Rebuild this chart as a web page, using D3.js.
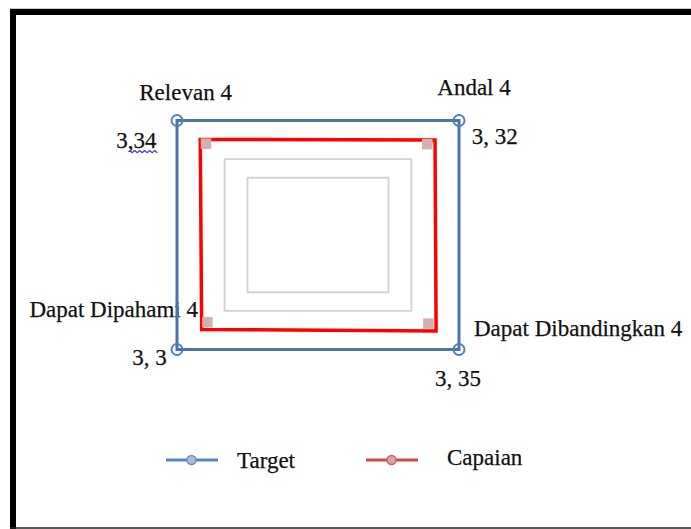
<!DOCTYPE html>
<html>
<head>
<meta charset="utf-8">
<script src="https://cdn.jsdelivr.net/npm/d3@7"></script>
<style>
  html, body { margin: 0; padding: 0; background: #fff; }
  svg { display: block; }
  text { font-family: "Liberation Serif", "Times New Roman", serif; }
</style>
</head>
<body>
<svg id="chart" width="691" height="529"></svg>
<script>
// ---- data ----
const categories = ["Relevan", "Andal", "Dapat Dibandingkan", "Dapat Dipahami"];
const targetValues = [4, 4, 4, 4];
const capaianValues = [3.34, 3.32, 3.35, 3.3];
const valueLabels = ["3,34", "3, 32", "3, 35", "3, 3"];
const gridLevels = [2, 2.65];
const seriesNames = ["Target", "Capaian"];

// ---- layout ----
const W = 691, H = 529;
const cx = 318, cy = 235;
const rX = d3.scaleLinear().domain([0, 4]).range([0, 141]);
const rY = d3.scaleLinear().domain([0, 4]).range([0, 114.5]);
const angles = d3.scalePoint().domain(categories).range([-135, 135]).padding(0); // -135,-45,45,135
const fontSize = 23;

const svg = d3.select("#chart");
svg.append("rect").attr("width", W).attr("height", H).attr("fill", "#fff");

function pt(cat, v) {
  const a = angles(cat) * Math.PI / 180;
  const sx = Math.sign(Math.round(Math.cos(a) * 1000));
  const sy = Math.sign(Math.round(Math.sin(a) * 1000));
  return [cx + sx * rX(v), cy + sy * rY(v), sx, sy];
}
const closedLine = d3.line().curve(d3.curveLinearClosed);

// ---- frame (image border) ----
svg.append("line").attr("x1", 10).attr("x2", W).attr("y1", 8.5).attr("y2", 8.5)
  .attr("stroke", "#c8c8c8").attr("stroke-width", 1);
svg.append("rect").attr("x", 10).attr("y", 9).attr("width", W - 10).attr("height", 6).attr("fill", "#000");
svg.append("rect").attr("x", 10).attr("y", 9).attr("width", 6).attr("height", H - 9).attr("fill", "#000");
svg.append("line").attr("x1", 10).attr("x2", W).attr("y1", 528).attr("y2", 528)
  .attr("stroke", "#222").attr("stroke-width", 1.5);

// ---- labels (drawn under the lines) ----
const labelG = svg.append("g").attr("font-size", fontSize).attr("fill", "#111")
  .attr("stroke", "#111").attr("stroke-width", 0.25);
// placement per category: [anchor, dx, dy] for category label and value label
const catPlace = [["middle", 8.6, -20.5], ["middle", 15, -25.5], ["start", 15, -13.5], ["end", 21, -33]];
const valPlace = [["end", -20.5, 27.5], ["start", 12.7, 23.5], ["middle", -1, 36.5], ["end", -10.3, 15.5]];
categories.forEach((c, i) => {
  const [x, y] = pt(c, targetValues[i]);
  labelG.append("text").attr("x", x + catPlace[i][1]).attr("y", y + catPlace[i][2])
    .attr("text-anchor", catPlace[i][0]).text(c + " " + targetValues[i]);
  const vt = labelG.append("text").attr("x", x + valPlace[i][1]).attr("y", y + valPlace[i][2])
    .attr("text-anchor", valPlace[i][0]).text(valueLabels[i]);
  if (i === 0) {
    // spell-check squiggle under the digits after the comma
    const bb = vt.node().getBBox();
    const x0 = bb.x + bb.width * 0.33, x1 = bb.x + bb.width + 1;
    const yb = y + valPlace[i][2] + 2.5;
    const pts = [];
    for (let k = 0, xx = x0; xx <= x1; k++, xx += 2.5) pts.push([xx, yb + (k % 2 ? 2.2 : 0)]);
    svg.append("path").attr("d", d3.line()(pts)).attr("fill", "none")
      .attr("stroke", "#3a3af0").attr("stroke-width", 1.3);
  }
});

// ---- grid ----
gridLevels.forEach(lv => {
  svg.append("path").attr("d", closedLine(categories.map(c => pt(c, lv).slice(0, 2))))
    .attr("fill", "none").attr("stroke", "#d2d2d2").attr("stroke-width", 1.8);
});

// ---- Capaian series ----
const capPts = categories.map((c, i) => pt(c, capaianValues[i]));
svg.append("path").attr("d", closedLine(capPts.map(p => p.slice(0, 2))))
  .attr("fill", "none").attr("stroke", "#ff0000").attr("stroke-width", 3.5)
  .attr("stroke-linejoin", "miter");
const ms = 10.5;
svg.selectAll("rect.cap").data(capPts).join("rect").attr("class", "cap")
  .attr("x", p => p[2] < 0 ? p[0] + 0.5 : p[0] - 0.5 - ms - 2)
  .attr("y", p => p[3] < 0 ? p[1] - 1 : p[1] + 1 - ms - 3)
  .attr("width", ms).attr("height", ms).attr("fill", "#d7aeb0");

// ---- Target series ----
const tgtPts = categories.map((c, i) => pt(c, targetValues[i]));
svg.append("path").attr("d", closedLine(tgtPts.map(p => p.slice(0, 2))))
  .attr("fill", "none").attr("stroke", "#4a74a6").attr("stroke-width", 3)
  .attr("stroke-linejoin", "miter");
svg.selectAll("circle.tgt").data(tgtPts).join("circle").attr("class", "tgt")
  .attr("cx", p => p[0]).attr("cy", p => p[1]).attr("r", 5.5)
  .attr("fill", "none").attr("stroke", "#4f7fbf").attr("stroke-width", 2);

// ---- legend ----
const legendColors = [{line: "#5585c4", fill: "#a7b9d6", stroke: "#6a90c6"},
                      {line: "#cc4b4b", fill: "#d9a5a5", stroke: "#d06060"}];
const legX = d3.scalePoint().domain(seriesNames).range([166, 366]);
const legTextOff = [71, 81];
const legTextDy = [8, 5];
const legY = 460;
seriesNames.forEach((s, i) => {
  const x0 = legX(s);
  svg.append("line").attr("x1", x0).attr("x2", x0 + 52).attr("y1", legY).attr("y2", legY)
    .attr("stroke", legendColors[i].line).attr("stroke-width", 3);
  svg.append("circle").attr("cx", x0 + 25.5).attr("cy", legY).attr("r", 4.5)
    .attr("fill", legendColors[i].fill).attr("stroke", legendColors[i].stroke).attr("stroke-width", 1.5);
  svg.append("text").attr("x", x0 + legTextOff[i]).attr("y", legY + legTextDy[i])
    .attr("font-size", fontSize).attr("fill", "#111").attr("stroke", "#111").attr("stroke-width", 0.25)
    .text(s);
});
</script>
</body>
</html>
